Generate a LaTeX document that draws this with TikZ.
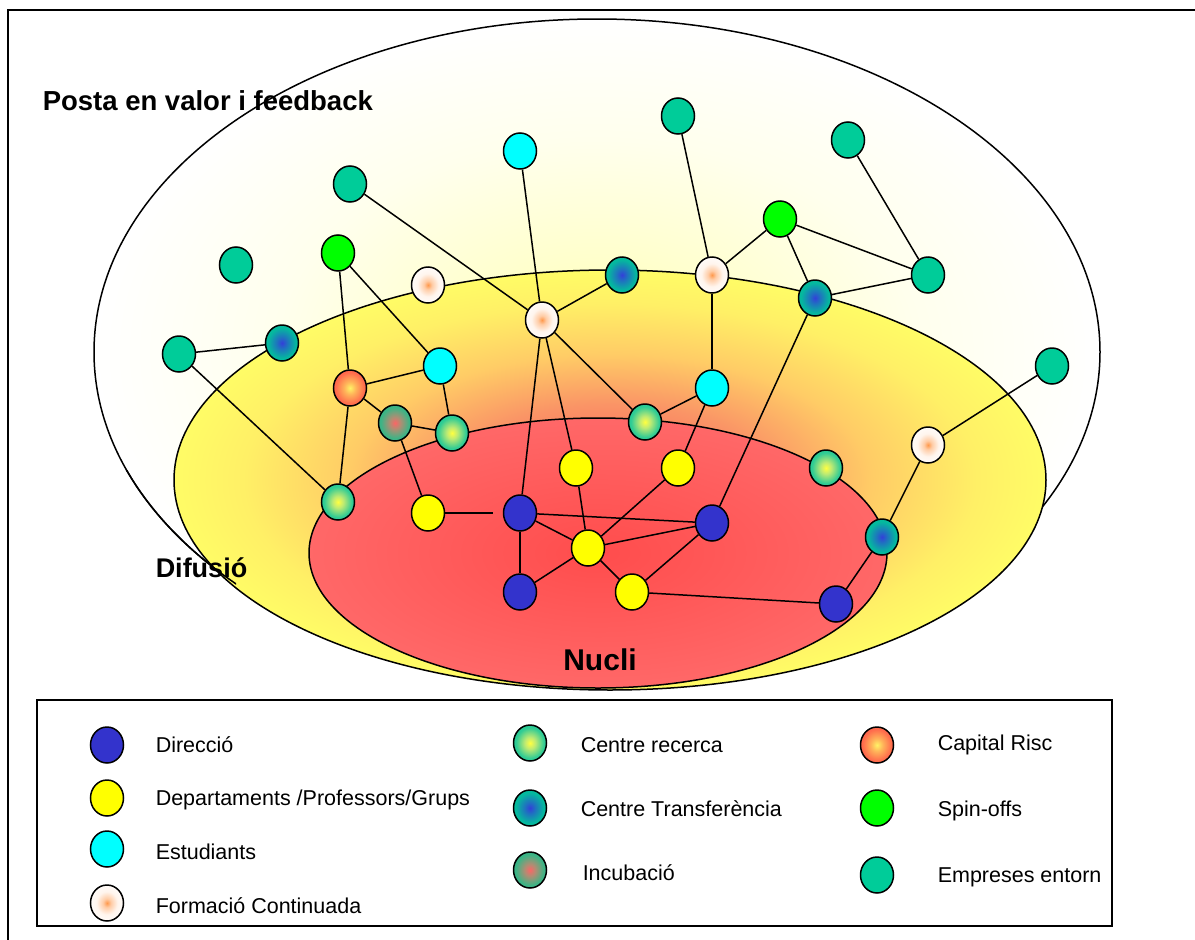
\documentclass[tikz,border=0pt]{standalone}
\usepackage{fontspec}
\setmainfont{Liberation Sans}
\usetikzlibrary{shapes.geometric}
\definecolor{dirc}{RGB}{51,51,204}
\definecolor{depc}{RGB}{255,255,0}
\definecolor{estc}{RGB}{0,255,255}
\definecolor{spinc}{RGB}{0,255,0}
\definecolor{empc}{RGB}{0,204,153}
\pgfdeclareradialshading{bgsh}{\pgfpointorigin}{rgb(0bp)=(1,1,0.68); rgb(7bp)=(1,1,0.8); rgb(16bp)=(1,1,0.93); rgb(25bp)=(1,1,1); rgb(50bp)=(1,1,1)}
\pgfdeclareradialshading{yelsh}{\pgfpointorigin}{rgb(0bp)=(1,0.35,0.35); rgb(9bp)=(0.98,0.58,0.4); rgb(15bp)=(1,0.8,0.4); rgb(21bp)=(1,0.94,0.4); rgb(26bp)=(1,1,0.4); rgb(50bp)=(1,1,0.4)}
\pgfdeclareradialshading{redsh}{\pgfpointorigin}{rgb(0bp)=(1,0.3,0.3); rgb(35bp)=(1,0.45,0.45); rgb(50bp)=(1,0.45,0.45)}
\pgfdeclareradialshading{formsh}{\pgfpointorigin}{rgb(0bp)=(1,0.6,0.3); rgb(6bp)=(1,0.8,0.65); rgb(16bp)=(1,0.96,0.93); rgb(30bp)=(1,1,1); rgb(50bp)=(1,1,1)}
\pgfdeclareradialshading{recsh}{\pgfpointorigin}{rgb(0bp)=(1,1,0.25); rgb(8bp)=(0.75,0.92,0.45); rgb(21bp)=(0.2,0.8,0.58); rgb(35bp)=(0,0.78,0.58); rgb(50bp)=(0,0.78,0.58)}
\pgfdeclareradialshading{trsh}{\pgfpointorigin}{rgb(0bp)=(0.2,0.25,0.85); rgb(8bp)=(0.12,0.45,0.75); rgb(21bp)=(0.02,0.72,0.62); rgb(35bp)=(0,0.78,0.6); rgb(50bp)=(0,0.78,0.6)}
\pgfdeclareradialshading{incsh}{\pgfpointorigin}{rgb(0bp)=(0.98,0.4,0.4); rgb(8bp)=(0.7,0.55,0.45); rgb(21bp)=(0.25,0.7,0.52); rgb(35bp)=(0.1,0.72,0.52); rgb(50bp)=(0.1,0.72,0.52)}
\pgfdeclareradialshading{capsh}{\pgfpointorigin}{rgb(0bp)=(1,0.95,0.4); rgb(9bp)=(1,0.7,0.35); rgb(22bp)=(1,0.42,0.3); rgb(35bp)=(1,0.35,0.3); rgb(50bp)=(1,0.35,0.3)}
\begin{document}
\begin{tikzpicture}[x=1pt,y=-1pt,line width=1.5pt,
  nd/.style={ellipse,draw=black,line width=1.5pt,minimum width=33pt,minimum height=36pt,inner sep=0pt},
  dirn/.style={nd,fill=dirc},
  depn/.style={nd,fill=depc},
  estn/.style={nd,fill=estc},
  formn/.style={nd,shade,shading=formsh},
  recn/.style={nd,shade,shading=recsh},
  trn/.style={nd,shade,shading=trsh},
  incn/.style={nd,shade,shading=incsh},
  capn/.style={nd,shade,shading=capsh},
  spinn/.style={nd,fill=spinc},
  empn/.style={nd,fill=empc},
  lnk/.style={draw=black,line width=1.5pt},
  zone/.style={draw=black,line width=1.5pt},
  ttl/.style={font=\bfseries\fontsize{27.5}{30}\selectfont,anchor=west,inner sep=0pt},
  leg/.style={font=\fontsize{21.5}{24}\selectfont,anchor=west,inner sep=0pt}
]
\useasboundingbox (0,0) rectangle (1195,940);
\fill[white] (0,0) rectangle (1195,940);
% frame
\draw[line width=1.5pt] (1200,10) -- (8,10) -- (8,945);
% zones
\shadedraw[zone,shading=bgsh] (597,352) ellipse [x radius=503pt, y radius=333pt];
\shadedraw[zone,shading=yelsh] (610,480) ellipse [x radius=436pt, y radius=210pt];
\begin{scope}
\clip (0,470) rectangle (236,700);
\draw[zone] (597,352) ellipse [x radius=503pt, y radius=333pt];
\end{scope}
\shadedraw[zone,shading=redsh] (598,553) ellipse [x radius=289pt, y radius=135pt];
% zone labels
\node[ttl] (lposta) at (42,101) {Posta en valor i feedback};
\node[ttl,font=\bfseries\fontsize{27}{30}\selectfont] (ldif) at (155,568) {Difusió};
\node[ttl,font=\bfseries\fontsize{30}{32}\selectfont,anchor=center] (lnuc) at (600,660) {Nucli};
% nodes
\node[empn] (E1) at (350,184) {};
\node[empn] (E2) at (678,116) {};
\node[empn] (E3) at (848,140) {};
\node[empn] (E4) at (236,265) {};
\node[empn] (E5) at (928,275) {};
\node[empn] (E6) at (179,354) {};
\node[empn] (E7) at (1052,366) {};
\node[estn] (S1) at (520,151) {};
\node[estn] (S2) at (440,366) {};
\node[estn] (S3) at (712,388) {};
\node[spinn] (G1) at (338,253) {};
\node[spinn] (G2) at (780,219) {};
\node[formn] (F1) at (428,285) {};
\node[formn] (F2) at (542,320) {};
\node[formn] (F3) at (712,275) {};
\node[formn] (F4) at (928,445) {};
\node[trn] (T1) at (282,343) {};
\node[trn] (T2) at (622,275) {};
\node[trn] (T3) at (815,298) {};
\node[trn] (T4) at (882,537) {};
\node[capn] (C1) at (350,388) {};
\node[incn] (I1) at (395,423) {};
\node[recn] (R1) at (452,433) {};
\node[recn] (R2) at (645,422) {};
\node[recn] (R3) at (338,502) {};
\node[recn] (R4) at (826,468) {};
\node[depn] (D1) at (576,468) {};
\node[depn] (D2) at (678,468) {};
\node[depn] (D3) at (428,513) {};
\node[depn] (D4) at (588,548) {};
\node[depn] (D5) at (632,592) {};
\node[dirn] (B1) at (520,513) {};
\node[dirn] (B2) at (712,523) {};
\node[dirn] (B3) at (520,592) {};
\node[dirn] (B4) at (836,604) {};
% links
\draw[lnk] (E1) -- (F2);
\draw[lnk] (S1) -- (F2);
\draw[lnk] (F2) -- (T2);
\draw[lnk] (F2) -- (B1);
\draw[lnk] (F2) -- (D1);
\draw[lnk] (F2) -- (R2);
\draw[lnk] (E2) -- (F3);
\draw[lnk] (F3) -- (G2);
\draw[lnk] (F3) -- (S3);
\draw[lnk] (G2) -- (E5);
\draw[lnk] (G2) -- (T3);
\draw[lnk] (E3) -- (E5);
\draw[lnk] (E5) -- (T3);
\draw[lnk] (T3) -- (B2);
\draw[lnk] (S3) -- (R2);
\draw[lnk] (S3) -- (D2);
\draw[lnk] (D2) -- (D4);
\draw[lnk] (D1) -- (D4);
\draw[lnk] (B1) -- (B2);
\draw[lnk] (B1) -- (D4);
\draw[lnk] (D4) -- (B2);
\draw[lnk] (B1) -- (B3);
\draw[lnk] (B3) -- (D4);
\draw[lnk] (D4) -- (D5);
\draw[lnk] (D5) -- (B2);
\draw[lnk] (D5) -- (B4);
\draw[lnk] (B4) -- (T4);
\draw[lnk] (T4) -- (F4);
\draw[lnk] (F4) -- (E7);
\draw[lnk,shorten >=10pt] (D3) -- (B1);
\draw[lnk] (I1) -- (D3);
\draw[lnk] (C1) -- (I1);
\draw[lnk] (I1) -- (R1);
\draw[lnk] (C1) -- (S2);
\draw[lnk] (S2) -- (R1);
\draw[lnk] (G1) -- (C1);
\draw[lnk] (G1) -- (S2);
\draw[lnk] (C1) -- (R3);
\draw[lnk] (E6) -- (T1);
\draw[lnk] (E6) -- (R3);
% legend
\draw[line width=1.5pt] (37,700) rectangle (1112,926);
\node[dirn] (k1) at (107,745) {};
\node[depn] (k2) at (107,798) {};
\node[estn] (k3) at (107,849) {};
\node[formn] (k4) at (107,903) {};
\node[recn] (k5) at (530,743) {};
\node[trn] (k6) at (530,808) {};
\node[incn] (k7) at (530,870) {};
\node[capn] (k8) at (877,745) {};
\node[spinn] (k9) at (877,808) {};
\node[empn] (k10) at (877,875) {};
\node[leg] (t1) at (155,745) {Direcció};
\node[leg] (t2) at (155,800) {Departaments /Professors/Grups};
\node[leg] (t3) at (155,852) {Estudiants};
\node[leg] (t4) at (155,906) {Formació Continuada};
\node[leg] (t5) at (580,745) {Centre recerca};
\node[leg] (t6) at (580,809) {Centre Transferència};
\node[leg] (t7) at (582,873) {Incubació};
\node[leg] (t8) at (937,745) {Capital Risc};
\node[leg] (t9) at (937,811) {Spin-offs};
\node[leg] (t10) at (937,877) {Empreses entorn};
\end{tikzpicture}
\end{document}
